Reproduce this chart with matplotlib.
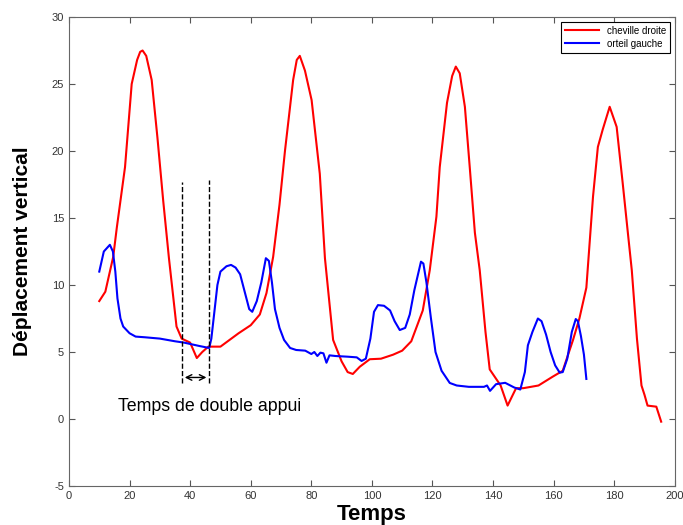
import numpy as np
import matplotlib
matplotlib.use("Agg")
from matplotlib import pyplot as plt

plt.rcParams['font.family'] = ['Liberation Sans', 'DejaVu Sans']
plt.rcParams['axes.unicode_minus'] = False

# cheville droite (red)
t_cheville = [10, 12, 14.6, 15.8, 18.5, 20.7, 22.5, 23.5, 24.3, 25.5, 27.3, 29.2, 31.1, 33.0, 35.5,
              37.2, 40, 42.2, 44, 46, 48, 50, 53, 56, 60, 63, 65.2, 67.4, 69.5, 71.3, 74,
              75.2, 76.2, 77.9, 80.1, 82.8, 84.5, 87.2, 90, 92, 93.7, 96, 99.3, 103, 107, 110,
              113, 116.8, 119.1, 121.3, 122.4, 124.8, 126.5, 127.7, 129, 130.7, 132.3, 134,
              135.6, 137.5, 138.9, 141, 142.5, 144.8, 146.3, 147.6, 150, 155, 159.7, 163,
              166.4, 168.5, 170.8, 173, 174.6, 176.2, 178.5, 180.8, 182.8, 184.5, 185.8,
              187.5, 189, 190, 191, 193.9, 195.5]
y_cheville = [8.8, 9.5, 12.1, 14.3, 18.8, 25.0, 26.8, 27.4, 27.5, 27.1, 25.3, 21.0, 16.3, 12.0, 6.9,
              6.0, 5.7, 4.55, 5.0, 5.4, 5.4, 5.4, 5.9, 6.4, 7.0, 7.8, 9.4, 12.1, 16.0, 20.0, 25.3,
              26.8, 27.1, 26.0, 23.8, 18.3, 12.0, 5.9, 4.3, 3.5, 3.36, 3.9, 4.46, 4.5, 4.8, 5.1,
              5.8, 8.1, 11.1, 15.1, 18.8, 23.6, 25.6, 26.3, 25.8, 23.3, 18.8, 13.9,
              11.1, 6.5, 3.7, 3.0, 2.5, 1.0, 1.7, 2.3, 2.3, 2.5, 3.16, 3.6,
              5.9, 7.5, 9.8, 16.6, 20.3, 21.6, 23.3, 21.8, 17.6, 13.9, 11.1,
              6.0, 2.5, 1.8, 1.0, 0.92, -0.2]

# orteil gauche (blue)
t_orteil = [10, 11.5, 13.5, 14.5, 15.3, 16, 17, 17.9, 20, 22, 25, 30, 35, 38, 40, 43, 46.3,
            47, 48, 49, 50, 52, 53.5, 55, 56.5, 58, 59.5, 60.5, 62, 63.5, 65, 66, 67, 68,
            69.5, 71, 73, 75, 78, 80, 81, 82, 83, 84, 85, 86, 88, 92, 95, 96.6, 98, 99.5,
            100.7, 102, 104, 106, 107.5, 109.2, 111, 112.5, 114, 116.2, 117, 118, 119.5,
            121, 123, 125.7, 128, 132, 137, 138, 139, 141, 144, 147, 149, 150.5, 151.5,
            153, 154.8, 156, 157.5, 159, 160.5, 162, 163, 164.5, 166, 167.3, 168, 169,
            170, 170.8]
y_orteil = [11.0, 12.5, 13.0, 12.5, 11.0, 9.0, 7.5, 6.9, 6.4, 6.15, 6.1, 6.0, 5.8, 5.7, 5.6,
            5.45, 5.3, 6.0, 8.0, 10.0, 11.0, 11.4, 11.5, 11.3, 10.8, 9.5, 8.2, 8.0, 8.8,
            10.2, 12.0, 11.8, 10.2, 8.2, 6.8, 5.9, 5.3, 5.15, 5.1, 4.85, 5.0, 4.7, 4.95,
            4.9, 4.2, 4.75, 4.7, 4.65, 4.6, 4.33, 4.5, 6.0, 8.0, 8.5, 8.45, 8.1, 7.3, 6.64,
            6.8, 7.8, 9.6, 11.74, 11.6, 10.2, 7.5, 5.0, 3.6, 2.69, 2.5, 2.4, 2.4, 2.5,
            2.1, 2.6, 2.7, 2.35, 2.2, 3.5, 5.5, 6.5, 7.5, 7.3, 6.3, 5.0, 4.0, 3.46, 3.5,
            4.5, 6.5, 7.46, 7.3, 6.2, 4.8, 2.99]

fig = plt.figure(figsize=(6.83, 5.25), dpi=100)
ax = fig.add_axes([0.101, 0.0743, 0.887, 0.8933])

ax.plot(t_cheville, y_cheville, color='#ff0000', lw=1.5, label='cheville droite')
ax.plot(t_orteil, y_orteil, color='#0000ff', lw=1.5, label='orteil gauche')

# double support markers
ax.plot([37.3, 37.3], [2.7, 17.7], color='black', lw=1, ls='--')
ax.plot([46.3, 46.3], [2.7, 17.8], color='black', lw=1, ls='--')
ax.annotate('', xy=(37.3, 3.1), xytext=(46.3, 3.1),
            arrowprops=dict(arrowstyle='<->', color='black', lw=1))
ax.text(46.4, 0.9, 'Temps de double appui', ha='center', va='center', fontsize=12.8)

ax.set_xlim(0, 200)
ax.set_ylim(-5, 30)
ax.set_xticks(np.arange(0, 201, 20))
ax.set_yticks(np.arange(-5, 31, 5))
ax.tick_params(direction='in', top=True, right=True, labelsize=8, length=4,
               colors='#555555', labelcolor='#333333')
for s in ax.spines.values():
    s.set_color('#666666')

ax.set_xlabel('Temps', fontsize=16, fontweight='bold', labelpad=2)
ax.set_ylabel('Déplacement vertical', fontsize=15, fontweight='bold', labelpad=14)

leg = ax.legend(loc='upper right', fontsize=7, fancybox=False, edgecolor='black',
                handlelength=3.5, borderpad=0.4, labelspacing=0.3, framealpha=1)
leg.get_frame().set_linewidth(0.8)

fig.savefig('out.png', dpi=100)
